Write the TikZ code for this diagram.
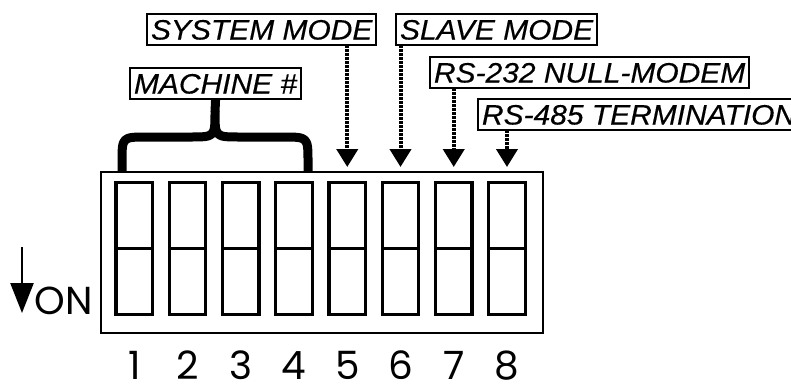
\documentclass[tikz,border=0pt]{standalone}
\usepackage{fontspec}
\newfontfamily\labelfont[FakeStretch=1.07,FakeBold=0.4]{Liberation Sans}
\newfontfamily\digitfont{Poppins}
\usetikzlibrary{arrows.meta}

\begin{document}
\begin{tikzpicture}
    [x=1pt,y=-1pt,
    dipbox/.style={rectangle,draw,line width=2.5pt,inner sep=0pt,outer sep=0pt,
      minimum width=442pt,minimum height=161pt},
    switch/.style={rectangle,draw,line width=3.3pt,inner sep=0pt,outer sep=0pt,
      minimum width=36.5pt,minimum height=132pt},
    divider/.style={line width=3pt},
    digit/.style={font=\digitfont\fontsize{39}{42}\selectfont,inner sep=0pt,anchor=base},
    tag/.style={rectangle,draw,line width=2pt,anchor=west,inner xsep=4pt,inner ysep=5.5pt,
      outer sep=0pt,text height=20pt,text depth=0pt,
      font=\labelfont\itshape\fontsize{28}{32}\selectfont},
    pointer/.style={line width=4pt,dash pattern=on 2.5pt off 1.5pt,
      -{Triangle[width=21pt,length=18pt]}},
    onpointer/.style={line width=2.5pt,-{Triangle[width=23pt,length=30pt]}},
    curly/.style={line width=9pt,line join=round}]

    \useasboundingbox (0,0) rectangle (791,383);

    % the DIP switch block
    \node (dip) at (322,252.5) [dipbox] {};

    \foreach \i in {1,...,8} {
      \node (sw\i) at ({134.3+53.24*(\i-1)},248.2) [switch] {};
      \draw[divider] (sw\i.west) -- (sw\i.east);
      \node (num\i) at ({134.3+53.24*(\i-1)},379) [digit] {\i};
    }

    % ON marker
    \node (on) at (64,314) [digit] {ON};
    \coordinate (ontop) at (22,247);
    \coordinate (ontip) at (22,313);
    \draw[onpointer] (ontop) -- (ontip);

    % labels
    \node (sysmode)     at (147,29.5)  [tag] {SYSTEM MODE};
    \node (slavemode)   at (396,29.5)  [tag] {SLAVE MODE};
    \node (machine)     at (130,83.5)  [tag] {MACHINE \#};
    \node (nullmodem)   at (430,72.5)  [tag] {RS-232 NULL-MODEM};
    \node (termination) at (478,114.5) [tag] {RS-485 TERMINATION};

    \coordinate (dipedge) at ([yshift=5pt]dip.north);

    \draw[pointer] (sysmode.south -| sw5) -- (dipedge -| sw5);
    \draw[pointer] (slavemode.south -| sw6) -- (dipedge -| sw6);
    \draw[pointer] (nullmodem.south -| sw7) -- (dipedge -| sw7);
    \draw[pointer] (termination.south -| sw8) -- (dipedge -| sw8);

    % brace over switches 1-4
    \draw[curly] (machine.south) -- (215,112);
    \draw[curly] (122,172) -- (122,162) .. controls (122,137) .. (147,137) -- (190,137)
      .. controls (215,137) .. (215,112) .. controls (215,137) .. (240,137) -- (283,137)
      .. controls (308,137) .. (308,162) -- (308,172);

  \end{tikzpicture}
\end{document}
